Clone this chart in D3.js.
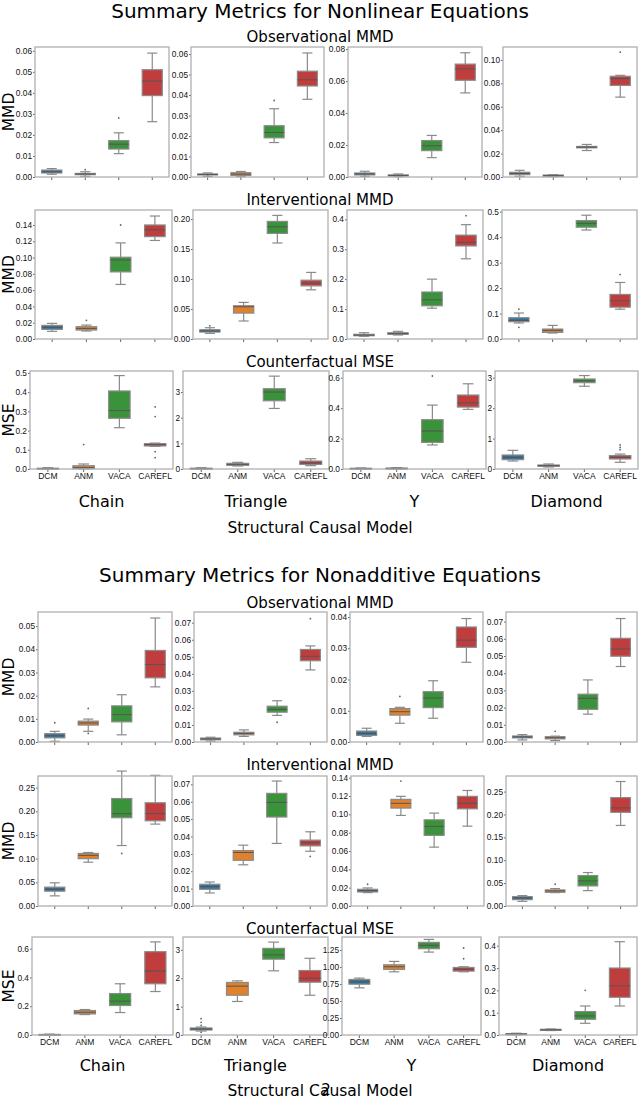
<!DOCTYPE html>
<html><head><meta charset="utf-8">
<script src="https://cdn.jsdelivr.net/npm/d3@7"></script>
<style>
body { margin: 0; background: #fff; }
svg { font-family: "DejaVu Sans", sans-serif; }
</style></head>
<body>
<svg width="640" height="1100"></svg>
<script>
const methods = ["DCM", "ANM", "VACA", "CAREFL"];
const models = ["Chain", "Triangle", "Y", "Diamond"];
const rowTitles = ["Observational MMD", "Interventional MMD", "Counterfactual MSE"];
const rowYLabels = ["MMD", "MMD", "MSE"];
const figTitles = ["Summary Metrics for Nonlinear Equations", "Summary Metrics for Nonadditive Equations"];
const colors = ["#3274a1", "#e1812c", "#3a923a", "#c03d3e"];

// one box: [lower whisker, q1, median, q3, upper whisker, outliers]
// panels in order Chain, Triangle, Y, Diamond
const nonlinearObs = [
  [[0.0013, 0.0019, 0.0025, 0.0033, 0.0040, []],
   [0.0003, 0.0011, 0.0014, 0.0017, 0.0025, [0.0035]],
   [0.0111, 0.0133, 0.0156, 0.0173, 0.0210, [0.0281]],
   [0.0263, 0.0387, 0.0456, 0.0510, 0.0589, []]],
  [[0.0003, 0.0010, 0.0012, 0.0015, 0.0020, []],
   [0.0002, 0.0008, 0.0014, 0.0021, 0.0027, []],
   [0.0168, 0.0191, 0.0217, 0.0250, 0.0333, [0.0373]],
   [0.0379, 0.0444, 0.0474, 0.0516, 0.0605, []]],
  [[0.0004, 0.0013, 0.0019, 0.0025, 0.0036, []],
   [0.0002, 0.0006, 0.0010, 0.0013, 0.0019, []],
   [0.0121, 0.0165, 0.0195, 0.0228, 0.0260, []],
   [0.0526, 0.0605, 0.0676, 0.0706, 0.0777, []]],
  [[0.0006, 0.0020, 0.0030, 0.0040, 0.0057, []],
   [0.0003, 0.0006, 0.0011, 0.0017, 0.0020, []],
   [0.0226, 0.0249, 0.0255, 0.0261, 0.0278, []],
   [0.0682, 0.0782, 0.0840, 0.0860, 0.0868, [0.1066]]]
];
const nonlinearInt = [
  [[0.0094, 0.0118, 0.0143, 0.0167, 0.0192, []],
   [0.0098, 0.0110, 0.0130, 0.0151, 0.0171, [0.0229]],
   [0.067, 0.0824, 0.097, 0.1004, 0.118, [0.140]],
   [0.121, 0.1257, 0.134, 0.140, 0.151, []]],
  [[0.0094, 0.0116, 0.0133, 0.0155, 0.0188, [0.022]],
   [0.030, 0.0432, 0.0537, 0.0554, 0.061, []],
   [0.160, 0.176, 0.187, 0.196, 0.206, []],
   [0.082, 0.0886, 0.093, 0.098, 0.111, []]],
  [[0.009, 0.011, 0.013, 0.0156, 0.021, []],
   [0.0133, 0.0156, 0.018, 0.021, 0.0256, []],
   [0.103, 0.111, 0.131, 0.157, 0.200, []],
   [0.268, 0.311, 0.323, 0.347, 0.382, [0.412]]],
  [[0.063, 0.0679, 0.073, 0.0836, 0.102, [0.117, 0.046]],
   [0.0235, 0.026, 0.034, 0.039, 0.0535, []],
   [0.428, 0.439, 0.454, 0.465, 0.486, []],
   [0.117, 0.125, 0.150, 0.175, 0.222, [0.253]]]
];
const nonlinearCf = [
  [[0.000, 0.001, 0.002, 0.004, 0.007, []],
   [0.000, 0.002, 0.007, 0.017, 0.026, [0.127]],
   [0.215, 0.264, 0.304, 0.406, 0.486, []],
   [0.118, 0.120, 0.127, 0.132, 0.135, [0.323, 0.273, 0.090, 0.059]]],
  [[0.00, 0.01, 0.02, 0.03, 0.05, []],
   [0.117, 0.143, 0.18, 0.22, 0.26, []],
   [2.36, 2.66, 3.0, 3.13, 3.62, []],
   [0.13, 0.18, 0.234, 0.31, 0.40, []]],
  [[0.000, 0.001, 0.003, 0.005, 0.007, []],
   [0.000, 0.002, 0.004, 0.006, 0.009, []],
   [0.158, 0.175, 0.250, 0.324, 0.420, [0.611]],
   [0.392, 0.407, 0.434, 0.486, 0.560, []]],
  [[0.263, 0.307, 0.383, 0.46, 0.613, []],
   [0.066, 0.088, 0.11, 0.131, 0.164, []],
   [2.72, 2.837, 2.9, 2.957, 3.07, []],
   [0.22, 0.33, 0.383, 0.44, 0.49, [0.79, 0.71, 0.635]]]
];
const nonadditiveObs = [
  [[0.0003, 0.0018, 0.0027, 0.0036, 0.0046, [0.0083]],
   [0.0046, 0.0073, 0.0082, 0.0090, 0.0099, [0.0145, 0.0037]],
   [0.0031, 0.0087, 0.0118, 0.0156, 0.0204, []],
   [0.0238, 0.0277, 0.0334, 0.0395, 0.0535, []]],
  [[0.0005, 0.0013, 0.0018, 0.0023, 0.0028, []],
   [0.0033, 0.0042, 0.0050, 0.0057, 0.0071, []],
   [0.0156, 0.0175, 0.0191, 0.0210, 0.0242, [0.0116]],
   [0.0423, 0.0477, 0.0503, 0.0543, 0.0564, [0.0724]]],
  [[0.0018, 0.0021, 0.0027, 0.0035, 0.0044, []],
   [0.0060, 0.0086, 0.0097, 0.0107, 0.0111, [0.0146]],
   [0.0076, 0.0110, 0.0141, 0.0161, 0.0196, []],
   [0.0255, 0.0303, 0.0326, 0.0368, 0.0395, []]],
  [[0.0012, 0.0024, 0.0029, 0.0035, 0.0043, []],
   [0.0008, 0.0018, 0.0025, 0.0031, 0.0034, [0.0062]],
   [0.0162, 0.0190, 0.0254, 0.0278, 0.0361, []],
   [0.0439, 0.0499, 0.0541, 0.0603, 0.0718, []]]
];
const nonadditiveInt = [
  [[0.0214, 0.0313, 0.0352, 0.0398, 0.049, []],
   [0.0925, 0.100, 0.107, 0.111, 0.113, []],
   [0.1277, 0.1865, 0.195, 0.227, 0.285, [0.111]],
   [0.173, 0.180, 0.195, 0.218, 0.276, []]],
  [[0.0075, 0.0096, 0.0112, 0.0125, 0.0138, []],
   [0.0237, 0.0263, 0.0308, 0.0319, 0.035, []],
   [0.036, 0.0512, 0.0596, 0.0648, 0.0719, []],
   [0.0315, 0.0346, 0.0365, 0.0379, 0.0427, [0.0285]]],
  [[0.0146, 0.0153, 0.0168, 0.0182, 0.0197, [0.0237]],
   [0.0988, 0.1068, 0.112, 0.1163, 0.1196, [0.1363]],
   [0.0642, 0.077, 0.0868, 0.094, 0.1013, []],
   [0.0871, 0.106, 0.112, 0.1196, 0.126, []]],
  [[0.0102, 0.0139, 0.0175, 0.0205, 0.0227, []],
   [0.0292, 0.030, 0.0329, 0.0351, 0.038, [0.0475]],
   [0.0336, 0.0439, 0.0548, 0.0665, 0.0731, []],
   [0.176, 0.2047, 0.2142, 0.2368, 0.272, []]]
];
const nonadditiveCf = [
  [[0.000, 0.001, 0.002, 0.004, 0.006, []],
   [0.142, 0.1465, 0.158, 0.170, 0.177, []],
   [0.156, 0.205, 0.235, 0.288, 0.356, []],
   [0.302, 0.356, 0.444, 0.579, 0.647, []]],
  [[0.14, 0.176, 0.21, 0.247, 0.28, [0.576, 0.447, 0.34, 0.094]],
   [1.18, 1.40, 1.72, 1.85, 1.906, []],
   [2.26, 2.67, 2.82, 3.05, 3.27, []],
   [1.40, 1.86, 2.00, 2.27, 2.70, []]],
  [[0.694, 0.748, 0.782, 0.817, 0.837, []],
   [0.93, 0.965, 1.004, 1.033, 1.083, []],
   [1.22, 1.27, 1.319, 1.363, 1.407, []],
   [0.93, 0.94, 0.965, 0.994, 1.004, [1.28, 1.122]]],
  [[0.001, 0.003, 0.004, 0.006, 0.008, []],
   [0.020, 0.021, 0.023, 0.0255, 0.027, []],
   [0.0524, 0.0704, 0.0854, 0.105, 0.13, [0.2]],
   [0.13, 0.169, 0.22, 0.30, 0.418, []]]
];

// y tick labels, per row, per panel
const nonlinearTicks = [
  [["0.00","0.01","0.02","0.03","0.04","0.05","0.06"],
   ["0.00","0.01","0.02","0.03","0.04","0.05","0.06"],
   ["0.00","0.02","0.04","0.06","0.08"],
   ["0.00","0.02","0.04","0.06","0.08","0.10"]],
  [["0.00","0.02","0.04","0.06","0.08","0.10","0.12","0.14"],
   ["0.00","0.05","0.10","0.15","0.20"],
   ["0.0","0.1","0.2","0.3","0.4"],
   ["0.0","0.1","0.2","0.3","0.4","0.5"]],
  [["0.0","0.1","0.2","0.3","0.4","0.5"],
   ["0","1","2","3"],
   ["0.0","0.2","0.4","0.6"],
   ["0","1","2","3"]]
];
const nonadditiveTicks = [
  [["0.00","0.01","0.02","0.03","0.04","0.05"],
   ["0.00","0.01","0.02","0.03","0.04","0.05","0.06","0.07"],
   ["0.00","0.01","0.02","0.03","0.04"],
   ["0.00","0.01","0.02","0.03","0.04","0.05","0.06","0.07"]],
  [["0.00","0.05","0.10","0.15","0.20","0.25"],
   ["0.00","0.01","0.02","0.03","0.04","0.05","0.06","0.07"],
   ["0.00","0.02","0.04","0.06","0.08","0.10","0.12","0.14"],
   ["0.00","0.05","0.10","0.15","0.20","0.25"]],
  [["0.0","0.2","0.4","0.6"],
   ["0","1","2","3"],
   ["0.00","0.25","0.50","0.75","1.00","1.25"],
   ["0.0","0.1","0.2","0.3","0.4"]]
];
const nonlinearYMax = [[0.0618, 0.0634, 0.0813, 0.111], [0.1584, 0.215, 0.431, 0.5065], [0.51, 3.82, 0.644, 3.22]];
const nonadditiveYMax = [[0.0561, 0.0763, 0.0416, 0.0756], [0.2746, 0.0748, 0.1418, 0.284], [0.681, 3.45, 1.442, 0.439]];

const figures = [
  { title: figTitles[0], rows: [nonlinearObs, nonlinearInt, nonlinearCf], ticks: nonlinearTicks, ymax: nonlinearYMax },
  { title: figTitles[1], rows: [nonadditiveObs, nonadditiveInt, nonadditiveCf], ticks: nonadditiveTicks, ymax: nonadditiveYMax }
];

// page layout (pixels)
const layout = [
  { titleY: 18, modelY: 507, sclY: 533,
    rows: [
      { titleY: 42, y: [47, 177], x: [[35, 169], [191, 324], [348, 482], [503, 637]] },
      { titleY: 205, y: [210, 339], x: [[35, 172], [193, 328], [347, 483], [502, 637]] },
      { titleY: 367, y: [371, 469], x: [[30, 173], [183, 329], [343, 486], [495, 638]] }
    ] },
  { titleY: 582, modelY: 1071, sclY: 1096,
    rows: [
      { titleY: 608, y: [612, 742], x: [[38, 172], [194, 327], [350, 483], [506, 637]] },
      { titleY: 770, y: [776, 906], x: [[38, 172], [193, 327], [351, 484], [506, 637]] },
      { titleY: 934, y: [937, 1035], x: [[32, 173], [183, 328], [342, 481], [499, 637]] }
    ] }
];

const svg = d3.select("svg");
const boxLine = "#8a8a8a";

figures.forEach((fig, fi) => {
  const L = layout[fi];
  svg.append("text")
    .attr("x", 320).attr("y", L.titleY)
    .attr("text-anchor", "middle")
    .style("font-size", "20px")
    .text(fig.title);

  fig.rows.forEach((rowData, ri) => {
    const R = L.rows[ri];
    svg.append("text")
      .attr("x", 320).attr("y", R.titleY)
      .attr("text-anchor", "middle")
      .style("font-size", "15px")
      .text(rowTitles[ri]);

    // y label
    svg.append("text")
      .attr("transform", "translate(14," + ((R.y[0] + R.y[1]) / 2) + ") rotate(-90)")
      .attr("text-anchor", "middle")
      .style("font-size", "15.5px")
      .text(rowYLabels[ri]);

    rowData.forEach((panel, pi) => {
      const x = d3.scaleBand().domain(methods).range(R.x[pi]).padding(0);
      const y = d3.scaleLinear().domain([0, fig.ymax[ri][pi]]).range([R.y[1], R.y[0]]);
      const labels = fig.ticks[ri][pi];
      const g = svg.append("g");

      const yAxis = d3.axisLeft(y)
        .tickValues(labels.map(Number))
        .tickFormat((d, i) => labels[i])
        .tickSize(2).tickPadding(1);
      const ya = g.append("g").attr("transform", "translate(" + R.x[pi][0] + ",0)").call(yAxis);
      ya.select(".domain").remove();
      ya.selectAll("line").attr("stroke", "#666");
      ya.selectAll("text").style("font-size", "8.3px").attr("fill", "#111");

      const xAxis = d3.axisBottom(x).tickSize(3).tickPadding(1);
      if (ri < 2) xAxis.tickFormat("");
      const xa = g.append("g").attr("transform", "translate(0," + R.y[1] + ")").call(xAxis);
      xa.select(".domain").remove();
      xa.selectAll("line").attr("stroke", "#666");
      xa.selectAll("text").style("font-size", "8.5px").attr("fill", "#111");

      const bw = x.bandwidth() * 0.6;
      panel.forEach((b, mi) => {
        const cx = x(methods[mi]) + x.bandwidth() / 2;
        const [lo, q1, med, q3, hi, outs] = b;
        const bg = g.append("g");
        bg.append("line").attr("x1", cx).attr("x2", cx).attr("y1", y(lo)).attr("y2", y(q1))
          .attr("stroke", boxLine).attr("stroke-width", 1.2);
        bg.append("line").attr("x1", cx).attr("x2", cx).attr("y1", y(q3)).attr("y2", y(hi))
          .attr("stroke", boxLine).attr("stroke-width", 1.2);
        [lo, hi].forEach(v => {
          bg.append("line").attr("x1", cx - bw / 4).attr("x2", cx + bw / 4)
            .attr("y1", y(v)).attr("y2", y(v))
            .attr("stroke", boxLine).attr("stroke-width", 1.2);
        });
        bg.append("rect")
          .attr("x", cx - bw / 2).attr("width", bw)
          .attr("y", y(q3)).attr("height", Math.max(y(q1) - y(q3), 1))
          .attr("fill", colors[mi])
          .attr("stroke", boxLine).attr("stroke-width", 1.2);
        bg.append("line").attr("x1", cx - bw / 2).attr("x2", cx + bw / 2)
          .attr("y1", y(med)).attr("y2", y(med))
          .attr("stroke", "#555").attr("stroke-width", 1);
        bg.selectAll("circle.out").data(outs).enter().append("circle")
          .attr("cx", cx).attr("cy", d => y(d)).attr("r", 0.9)
          .attr("fill", "#666");
      });

      // frame
      g.append("rect")
        .attr("x", R.x[pi][0]).attr("y", R.y[0])
        .attr("width", R.x[pi][1] - R.x[pi][0]).attr("height", R.y[1] - R.y[0])
        .attr("fill", "none").attr("stroke", "#b0b0b0").attr("stroke-width", 1.3);

      if (ri === 2) {
        svg.append("text")
          .attr("x", (R.x[pi][0] + R.x[pi][1]) / 2).attr("y", L.modelY)
          .attr("text-anchor", "middle")
          .style("font-size", "16px")
          .text(models[pi]);
      }
    });
  });

  svg.append("text")
    .attr("x", 320).attr("y", L.sclY)
    .attr("text-anchor", "middle")
    .style("font-size", "15.5px")
    .text("Structural Causal Model");
});

// page number overlapping the last axis title
svg.append("text")
  .attr("x", 326).attr("y", 1095)
  .attr("text-anchor", "middle")
  .style("font-size", "15px")
  .text("2");
</script>
</body></html>
